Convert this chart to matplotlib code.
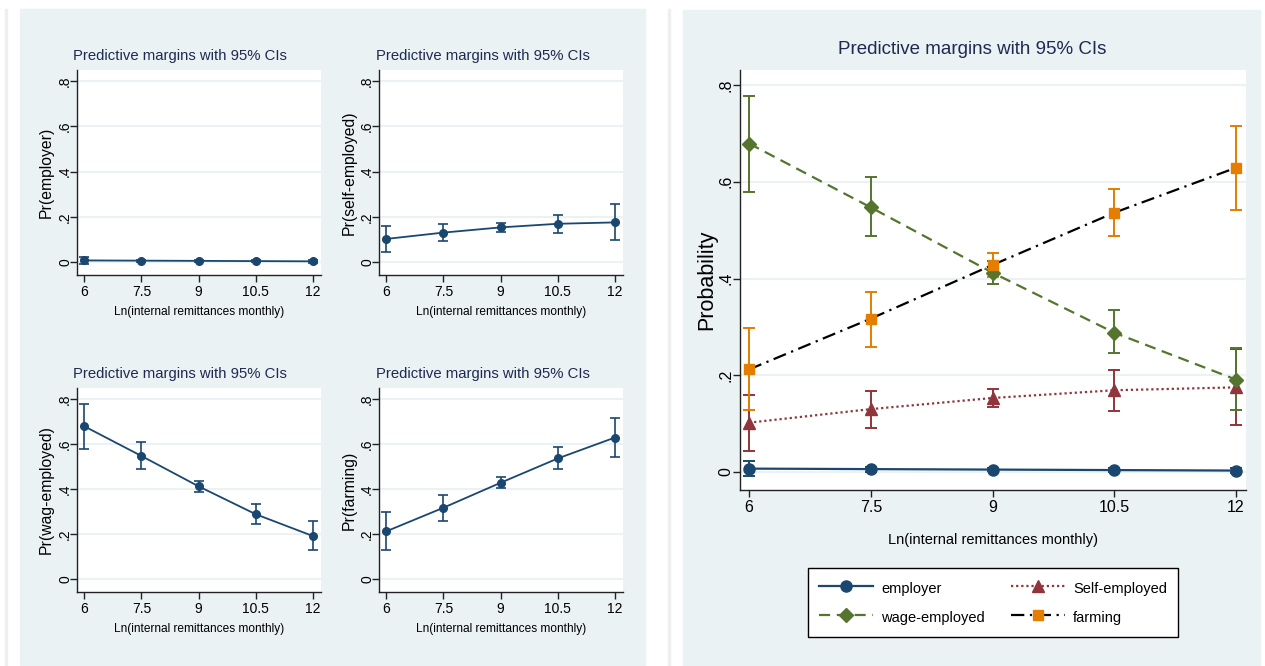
import matplotlib
matplotlib.use("Agg")
import numpy as np
import matplotlib.pyplot as plt
from matplotlib.patches import Rectangle
from matplotlib.lines import Line2D

# Predictive margins (Stata margins output)
x_vals = [6, 7.5, 9, 10.5, 12]
x_ticklabels = ["6", "7.5", "9", "10.5", "12"]
y_ticks = [0, 0.2, 0.4, 0.6, 0.8]
y_ticklabels = ["0", ".2", ".4", ".6", ".8"]

employer = [0.007, 0.006, 0.005, 0.004, 0.003]
employer_lo = [-0.008, 0.001, 0.002, 0.000, -0.003]
employer_hi = [0.022, 0.011, 0.008, 0.008, 0.009]

self_emp = [0.102, 0.130, 0.153, 0.169, 0.175]
self_lo = [0.044, 0.091, 0.134, 0.127, 0.097]
self_hi = [0.160, 0.168, 0.172, 0.210, 0.255]

wage = [0.679, 0.547, 0.412, 0.288, 0.191]
wage_lo = [0.579, 0.487, 0.388, 0.245, 0.128]
wage_hi = [0.778, 0.609, 0.437, 0.334, 0.256]

farming = [0.212, 0.317, 0.428, 0.536, 0.629]
farming_lo = [0.128, 0.258, 0.404, 0.488, 0.542]
farming_hi = [0.297, 0.373, 0.453, 0.585, 0.716]

NAVY = "#1A476F"
MAROON = "#90353B"
GREEN = "#55752F"
ORANGE = "#E37E00"
BG = "#EAF2F3"
TITLE_C = "#1F2A52"
FONT = ["Liberation Sans", "DejaVu Sans"]

W, H = 1265, 666
fig = plt.figure(figsize=(W / 100, H / 100), dpi=100)


def fx(px):
    return px / W


def fy(py):
    return 1 - py / H


def rect(x0, y0, x1, y1, color):
    fig.patches.append(Rectangle((fx(x0), fy(y1)), (x1 - x0) / W, (y1 - y0) / H,
                                 transform=fig.transFigure, color=color, zorder=-10))


# graph regions
rect(5, 9, 7, 666, "#EFEFEF")
rect(20, 9, 645, 665, BG)
rect(668, 9, 670, 666, "#EFEFEF")
rect(683, 10, 1260, 666, BG)


def style_axes(ax, xlim, ylim, tick_size, ypad):
    ax.set_facecolor("white")
    ax.set_xlim(*xlim)
    ax.set_ylim(*ylim)
    for s in ["top", "right"]:
        ax.spines[s].set_visible(False)
    for s in ["left", "bottom"]:
        ax.spines[s].set_color("#222222")
        ax.spines[s].set_linewidth(1.0)
    ax.set_xticks(x_vals)
    ax.set_xticklabels(x_ticklabels, family=FONT, fontsize=tick_size)
    ax.set_yticks(y_ticks)
    ax.set_yticklabels(y_ticklabels, family=FONT, fontsize=tick_size,
                       rotation=90, va="center")
    ax.tick_params(direction="out", length=5, width=1.0, color="#222222")
    ax.tick_params(axis="x", pad=2)
    ax.tick_params(axis="y", pad=ypad)
    ax.grid(axis="y", color=BG, linewidth=1.5)
    ax.set_axisbelow(True)


def small_panel(box, y, lo, hi, ylabel, title_cx, ylabel_cx):
    x0, y0, x1, y1 = box
    ax = fig.add_axes([fx(x0), fy(y1), (x1 - x0) / W, (y1 - y0) / H])
    style_axes(ax, (5.81, 12.21), (-0.0575, 0.849), 10, -1.5)
    y = np.array(y)
    err = [y - np.array(lo), np.array(hi) - y]
    ax.errorbar(x_vals, y, yerr=err, fmt="none", ecolor=NAVY, elinewidth=1.2,
                capsize=3.5, capthick=1.2)
    ax.plot(x_vals, y, color=NAVY, lw=1.3, marker="o", ms=5.5)
    fig.text(fx(title_cx), fy(y0 - 14), "Predictive margins with 95% CIs",
             ha="center", va="center", color=TITLE_C, fontsize=10.7, family=FONT)
    fig.text(fx((x0 + x1) / 2), fy(y1 + 37), "Ln(internal remittances monthly)",
             ha="center", va="center", fontsize=8.6, family=FONT)
    fig.text(fx(ylabel_cx), fy((y0 + y1) / 2), ylabel, rotation=90,
             ha="center", va="center", fontsize=11.3, family=FONT)
    return ax


small_panel((77, 70, 321, 275), employer, employer_lo, employer_hi,
            "Pr(employer)", 180, 46)
small_panel((379, 70, 623, 275), self_emp, self_lo, self_hi,
            "Pr(self-employed)", 483, 349)
small_panel((77, 388, 321, 592), wage, wage_lo, wage_hi,
            "Pr(wag-employed)", 180, 46)
small_panel((379, 388, 623, 592), farming, farming_lo, farming_hi,
            "Pr(farming)", 483, 349)

# combined panel
bx0, by0, bx1, by1 = 740, 70, 1246, 490
ax = fig.add_axes([fx(bx0), fy(by1), (bx1 - bx0) / W, (by1 - by0) / H])
style_axes(ax, (5.889, 12.123), (-0.0372, 0.831), 11.5, -0.5)

series = [
    ("employer", employer, employer_lo, employer_hi, NAVY, NAVY, "-", "o", 8),
    ("Self-employed", self_emp, self_lo, self_hi, MAROON, MAROON, (0, (1, 1.3)), "^", 8.5),
    ("wage-employed", wage, wage_lo, wage_hi, GREEN, GREEN, (0, (5, 3)), "D", 7.5),
    ("farming", farming, farming_lo, farming_hi, ORANGE, "black", (0, (6, 2.5, 1, 2.5)), "s", 7.5),
]
handles = {}
for name, y, lo, hi, mcol, lcol, ls, mk, ms in series:
    y = np.array(y)
    err = [y - np.array(lo), np.array(hi) - y]
    ax.errorbar(x_vals, y, yerr=err, fmt="none", ecolor=mcol, elinewidth=1.4,
                capsize=4, capthick=1.4, zorder=2)
    ax.plot(x_vals, y, color=lcol, lw=1.6, ls=ls, zorder=3)
    ax.plot(x_vals, y, lw=0, marker=mk, ms=ms, mfc=mcol, mec=mcol, zorder=4)
    handles[name] = Line2D([], [], color=lcol, lw=1.6, ls=ls, marker=mk, ms=ms,
                           mfc=mcol, mec=mcol)

fig.text(fx(972), fy(50), "Predictive margins with 95% CIs", ha="center", va="center",
         color=TITLE_C, fontsize=13.5, family=FONT)
fig.text(fx(993), fy(540), "Ln(internal remittances monthly)", ha="center",
         va="center", fontsize=10.5, family=FONT)
fig.text(fx(707), fy((by0 + by1) / 2), "Probability", rotation=90, ha="center",
         va="center", fontsize=15.5, family=FONT)

order = ["employer", "wage-employed", "Self-employed", "farming"]
leg = fig.legend([handles[k] for k in order], order, loc="center", ncol=2,
                 bbox_to_anchor=(fx(993), fy(602.5)), frameon=True, fancybox=False,
                 edgecolor="black", facecolor="white", framealpha=1,
                 prop={"family": FONT, "size": 10.5}, handlelength=3.7,
                 handleheight=1.5, handletextpad=0.55, columnspacing=1.8,
                 labelspacing=0.8, borderpad=0.75)
leg.get_frame().set_linewidth(1.0)

fig.savefig("out.png", dpi=100)
